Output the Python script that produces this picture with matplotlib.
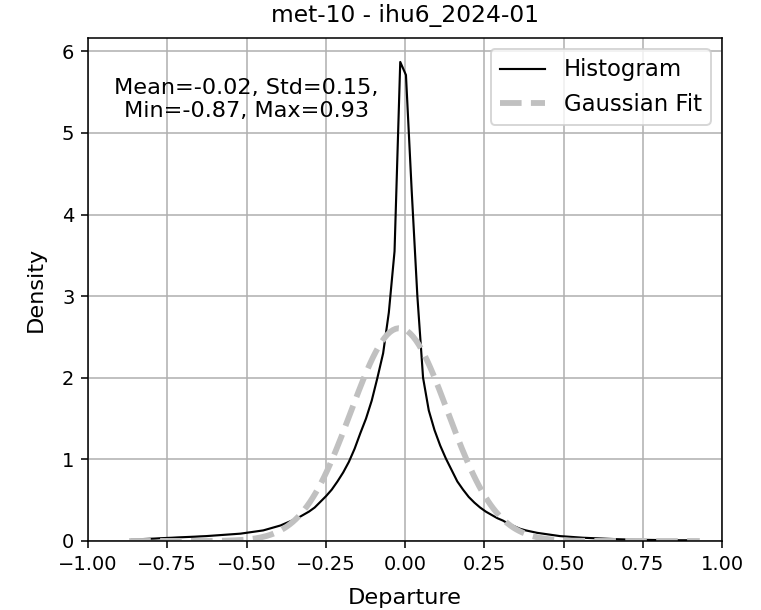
import matplotlib
matplotlib.use("Agg")
import matplotlib.pyplot as plt
import numpy as np

title = "met-10 - ihu6_2024-01"

# departure statistics shown in the annotation
dep_mean = -0.018
dep_std = 0.153
dep_min = -0.87
dep_max = 0.93

# histogram density at bin centres (100 bins between min and max)
n_bins = 100
hist_density = [
    0.018, 0.020, 0.024, 0.027, 0.030, 0.034, 0.037, 0.040, 0.044, 0.047,
    0.050, 0.053, 0.057, 0.060, 0.065, 0.070, 0.075, 0.080, 0.085, 0.090,
    0.100, 0.110, 0.120, 0.130, 0.150, 0.170, 0.190, 0.220, 0.250, 0.280,
    0.320, 0.360, 0.410, 0.480, 0.550, 0.630, 0.730, 0.840, 0.970, 1.130,
    1.320, 1.500, 1.720, 2.000, 2.300, 2.800, 3.550, 5.870, 5.710, 4.300,
    3.000, 2.000, 1.600, 1.360, 1.170, 1.010, 0.870, 0.730, 0.630, 0.540,
    0.470, 0.410, 0.360, 0.320, 0.280, 0.250, 0.210, 0.180, 0.150, 0.130,
    0.115, 0.100, 0.090, 0.080, 0.070, 0.060, 0.055, 0.050, 0.045, 0.040,
    0.037, 0.034, 0.031, 0.028, 0.025, 0.022, 0.020, 0.018, 0.016, 0.015,
    0.014, 0.013, 0.012, 0.011, 0.010, 0.010, 0.009, 0.009, 0.008, 0.008,
]

edges = np.linspace(dep_min, dep_max, n_bins + 1)
centers = 0.5 * (edges[:-1] + edges[1:])

# gaussian fit from the mean / std
x_fit = np.linspace(dep_min, dep_max, 200)
y_fit = np.exp(-0.5 * ((x_fit - dep_mean) / dep_std) ** 2) / (dep_std * np.sqrt(2 * np.pi))

fig = plt.figure(figsize=(761 / 140, 610 / 140), dpi=140)
ax = fig.add_axes([88 / 761, 1 - 541 / 610, (722 - 88) / 761, (541 - 38) / 610])

ax.plot(centers, hist_density, color="black", lw=1.1, label="Histogram")
ax.plot(x_fit, y_fit, color="#c0c0c0", lw=3, ls="--", label="Gaussian Fit")

ax.text(
    0.25, 0.878,
    f"Mean={dep_mean:.2f}, Std={dep_std:.2f},\nMin={dep_min:.2f}, Max={dep_max:.2f}",
    transform=ax.transAxes, ha="center", va="center", fontsize=11.5,
)

ax.set_xlim(-1, 1)
ax.set_ylim(bottom=0)
ax.grid(True)
ax.set_xlabel("Departure", fontsize=11.5, labelpad=7.5)
ax.set_ylabel("Density", fontsize=11.5, labelpad=8.5)
ax.set_title(title, pad=8)
ax.legend(loc="upper right", fontsize=11.7)

fig.savefig("out.png", dpi=140)
